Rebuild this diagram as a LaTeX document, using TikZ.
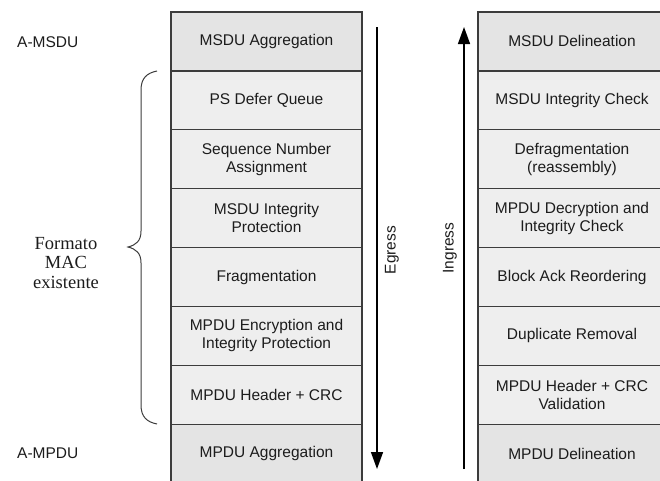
\documentclass[tikz,border=0pt]{standalone}
\usepackage{fontspec}
\setmainfont{Liberation Serif}
\setsansfont{Liberation Sans}
\usetikzlibrary{arrows.meta}

\definecolor{boxline}{HTML}{3C3C3C}
\definecolor{edgefill}{HTML}{E4E4E4}
\definecolor{midfill}{HTML}{EEEEEE}
\definecolor{textc}{HTML}{1C1C1C}

\begin{document}
\begin{tikzpicture}[x=1pt,y=-1pt,
  layer/.style={draw=boxline, line width=1.3pt, inner sep=0pt,
    minimum height=58.9pt, align=center, text=textc,
    font=\sffamily\fontsize{15.5}{18}\selectfont},
  txlayer/.style={layer, minimum width=191pt},
  rxlayer/.style={layer, minimum width=188pt},
  outer/.style={fill=edgefill},
  inner/.style={fill=midfill},
  lbl/.style={text=textc, inner sep=0pt, font=\sffamily\fontsize{15.5}{18}\selectfont},
  flow/.style={draw=black, line width=1.5pt, -{Triangle[width=12pt,length=17pt]}}
]
\useasboundingbox (0,0) rectangle (660,480);
\clip (0,0) rectangle (660,480);

% transmit stack (egress)
\node[txlayer,outer] (t1) at (266.5,41.45)  {MSDU Aggregation};
\node[txlayer,inner] (t2) at (266.5,100.35) {PS Defer Queue};
\node[txlayer,inner] (t3) at (266.5,159.25) {Sequence Number\\Assignment};
\node[txlayer,inner] (t4) at (266.5,218.15) {MSDU Integrity\\Protection};
\node[txlayer,inner] (t5) at (266.5,277.05) {Fragmentation};
\node[txlayer,inner] (t6) at (266.5,335.95) {MPDU Encryption and\\Integrity Protection};
\node[txlayer,inner] (t7) at (266.5,394.85) {MPDU Header + CRC};
\node[txlayer,outer] (t8) at (266.5,453.75) {MPDU Aggregation};

% receive stack (ingress)
\node[rxlayer,outer] (r1) at (572,41.45)  {MSDU Delineation};
\node[rxlayer,inner] (r2) at (572,100.35) {MSDU Integrity Check};
\node[rxlayer,inner] (r3) at (572,159.25) {Defragmentation\\(reassembly)};
\node[rxlayer,inner] (r4) at (572,218.15) {MPDU Decryption and\\Integrity Check};
\node[rxlayer,inner] (r5) at (572,277.05) {Block Ack Reordering};
\node[rxlayer,inner] (r6) at (572,335.95) {Duplicate Removal};
\node[rxlayer,inner] (r7) at (572,394.85) {MPDU Header + CRC\\Validation};
\node[rxlayer,outer] (r8) at (572,453.75) {MPDU Delineation};

% side labels
\node[lbl,anchor=west] (amsdu) at (17,42)  {A-MSDU};
\node[lbl,anchor=west] (ampdu) at (17,453) {A-MPDU};
\node[text=textc, align=center, inner sep=0pt,
      font=\rmfamily\fontsize{18.5}{19.5}\selectfont] (fmt) at (66,263)
      {Formato\\MAC\\existente};

% curly brace over the existing MAC layers
\draw[boxline, line width=1pt]
  (157,71) .. controls (147,73) and (141,78) .. (141,90)
  -- (141,231) .. controls (141,241) and (136,245) .. (128,247)
  .. controls (136,249) and (141,253) .. (141,263)
  -- (141,405) .. controls (141,417) and (147,422) .. (157,424);

% direction arrows
\coordinate (egtop) at (377,27);
\coordinate (egbot) at (377,469);
\coordinate (intop) at (464,27);
\coordinate (inbot) at (464,469);
\draw[flow] (egtop) -- (egbot);
\draw[flow] (inbot) -- (intop);
\node[lbl,rotate=90] (eglbl) at (392,250) {Egress};
\node[lbl,rotate=90] (inlbl) at (450,248) {Ingress};
\end{tikzpicture}
\end{document}
